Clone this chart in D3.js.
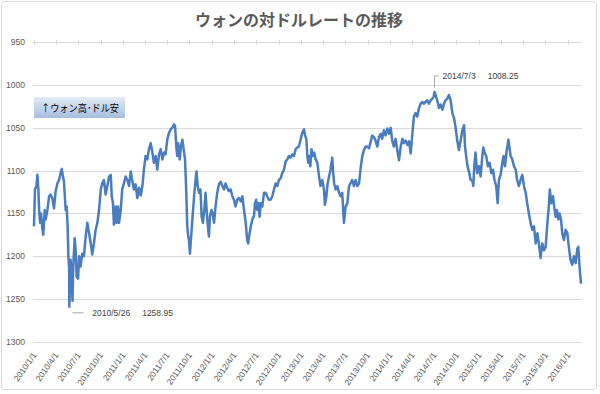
<!DOCTYPE html>
<html>
<head>
<meta charset="utf-8">
<script src="https://cdn.jsdelivr.net/npm/d3@7"></script>
<style>
  body { margin: 0; background: #fff; }
  svg text { font-family: "Liberation Sans", Arial, sans-serif; }
  .jp { font-family: "Noto Sans CJK JP", sans-serif !important; }
</style>
</head>
<body>
<svg width="600" height="394"></svg>
<script>
'use strict';
// 日付（営業日の抜き出し）
var dates = [
  '2010-01-01','2010-01-05','2010-01-11','2010-01-15','2010-01-19','2010-01-22','2010-01-26','2010-01-30','2010-02-04','2010-02-08',
  '2010-02-14','2010-02-18','2010-02-25','2010-03-04','2010-03-10','2010-03-17','2010-03-24','2010-03-31','2010-04-07','2010-04-14',
  '2010-04-20','2010-04-25','2010-04-30','2010-05-04','2010-05-08','2010-05-11','2010-05-15','2010-05-19','2010-05-22','2010-05-25',
  '2010-05-26','2010-05-31','2010-06-03','2010-06-08','2010-06-11','2010-06-17','2010-06-21','2010-06-25','2010-07-01','2010-07-05',
  '2010-07-11','2010-07-18','2010-07-25','2010-08-01','2010-08-08','2010-08-15','2010-08-22','2010-08-28','2010-09-04','2010-09-11',
  '2010-09-18','2010-09-25','2010-10-02','2010-10-08','2010-10-15','2010-10-22','2010-10-29','2010-11-05','2010-11-12','2010-11-16',
  '2010-11-21','2010-11-25','2010-12-02','2010-12-06','2010-12-12','2010-12-16','2010-12-23','2010-12-29',
  '2011-01-05','2011-01-12','2011-01-19','2011-01-26','2011-02-02','2011-02-08','2011-02-15','2011-02-22','2011-03-01','2011-03-08',
  '2011-03-15','2011-03-22','2011-03-28','2011-04-04','2011-04-11','2011-04-18','2011-04-25','2011-05-02','2011-05-08','2011-05-15',
  '2011-05-22','2011-05-29','2011-06-05','2011-06-12','2011-06-19','2011-06-25','2011-07-02','2011-07-09','2011-07-16','2011-07-23',
  '2011-07-30','2011-08-03','2011-08-08','2011-08-12','2011-08-16','2011-08-22','2011-08-27','2011-09-02','2011-09-07','2011-09-13',
  '2011-09-18','2011-09-22','2011-09-26','2011-09-29','2011-10-03','2011-10-06','2011-10-13','2011-10-20','2011-10-26','2011-10-30',
  '2011-11-04','2011-11-09','2011-11-15','2011-11-20','2011-11-25','2011-12-01','2011-12-06','2011-12-13','2011-12-20','2011-12-24',
  '2011-12-30',
  '2012-01-04','2012-01-10','2012-01-16','2012-01-23','2012-01-30','2012-02-06','2012-02-13','2012-02-20','2012-02-26','2012-03-04',
  '2012-03-11','2012-03-18','2012-03-25','2012-04-01','2012-04-07','2012-04-14','2012-04-21','2012-04-28','2012-05-05','2012-05-12',
  '2012-05-19','2012-05-25','2012-05-29','2012-06-04','2012-06-09','2012-06-15','2012-06-22','2012-06-26','2012-07-01','2012-07-05',
  '2012-07-10','2012-07-15','2012-07-20','2012-07-26','2012-08-02','2012-08-09','2012-08-15','2012-08-22','2012-08-29','2012-09-05',
  '2012-09-12','2012-09-19','2012-09-26','2012-10-02','2012-10-09','2012-10-16','2012-10-23','2012-10-30','2012-11-06','2012-11-12',
  '2012-11-19','2012-11-26','2012-12-03','2012-12-10','2012-12-17','2012-12-23','2012-12-30',
  '2013-01-06','2013-01-13','2013-01-17','2013-01-23','2013-01-27','2013-01-31','2013-02-04','2013-02-08','2013-02-13','2013-02-19',
  '2013-02-24','2013-03-02','2013-03-09','2013-03-16','2013-03-22','2013-03-29','2013-04-05','2013-04-09','2013-04-15','2013-04-20',
  '2013-04-26','2013-05-02','2013-05-09','2013-05-13','2013-05-17','2013-05-23','2013-05-30','2013-06-06','2013-06-12','2013-06-19',
  '2013-06-26','2013-07-03','2013-07-10','2013-07-17','2013-07-23','2013-07-30','2013-08-06','2013-08-13','2013-08-20','2013-08-27',
  '2013-09-03','2013-09-09','2013-09-16','2013-09-23','2013-09-30','2013-10-07','2013-10-14','2013-10-20','2013-10-27','2013-11-03',
  '2013-11-10','2013-11-17','2013-11-24','2013-11-30','2013-12-07','2013-12-14','2013-12-21','2013-12-28',
  '2014-01-04','2014-01-10','2014-01-17','2014-01-24','2014-01-31','2014-02-07','2014-02-14','2014-02-21','2014-02-27','2014-03-06',
  '2014-03-13','2014-03-20','2014-03-27','2014-04-03','2014-04-09','2014-04-16','2014-04-23','2014-04-30','2014-05-07','2014-05-14',
  '2014-05-20','2014-05-27','2014-06-03','2014-06-10','2014-06-17','2014-06-24','2014-06-29','2014-07-03','2014-07-14','2014-07-21',
  '2014-07-28','2014-08-04','2014-08-11','2014-08-17','2014-08-24','2014-08-31','2014-09-07','2014-09-14','2014-09-21','2014-09-27',
  '2014-10-04','2014-10-11','2014-10-18','2014-10-25','2014-11-01','2014-11-05','2014-11-10','2014-11-16','2014-11-21','2014-11-28',
  '2014-12-05','2014-12-09','2014-12-13','2014-12-18','2014-12-25',
  '2015-01-01','2015-01-08','2015-01-15','2015-01-19','2015-01-24','2015-01-31','2015-02-07','2015-02-14','2015-02-21','2015-02-28',
  '2015-03-06','2015-03-13','2015-03-19','2015-03-24','2015-03-31','2015-04-07','2015-04-12','2015-04-18','2015-04-25','2015-05-02',
  '2015-05-06','2015-05-11','2015-05-18','2015-05-25','2015-06-01','2015-06-07','2015-06-14','2015-06-21','2015-06-28','2015-07-05',
  '2015-07-12','2015-07-18','2015-07-25','2015-08-01','2015-08-08','2015-08-15','2015-08-22','2015-08-29','2015-09-04','2015-09-11',
  '2015-09-18','2015-09-25','2015-10-02','2015-10-09','2015-10-15','2015-10-19','2015-10-25','2015-11-01','2015-11-06','2015-11-12',
  '2015-11-17','2015-11-23','2015-11-28','2015-12-04','2015-12-09','2015-12-16','2015-12-23','2015-12-30',
  '2016-01-05','2016-01-12','2016-01-19','2016-01-26','2016-02-02','2016-02-09','2016-02-13','2016-02-18','2016-02-24'
];
// ウォン／ドル
var rates = [
  1165,1122,1118,1105,1122,1146,1161,1150,1167,1175,
  1146,1157,1146,1130,1128,1132,1144,1124,1115,1111,
  1103,1098,1107,1113,1132,1146,1142,1165,1200,1212,
  1258.95,1204,1215,1252,1212,1179,1193,1224,1226,1200,
  1212,1197,1200,1177,1161,1173,1185,1198,1185,1169,
  1161,1146,1122,1115,1111,1128,1118,1107,1105,1130,
  1138,1163,1142,1161,1142,1161,1146,1122,
  1115,1107,1111,1118,1101,1111,1122,1116,1132,1120,
  1129,1118,1099,1083,1087,1075,1068,1079,1091,1083,
  1099,1081,1075,1087,1079,1081,1064,1056,1052,1050,
  1046,1048,1072,1083,1068,1087,1072,1064,1075,1087,
  1126,1165,1177,1181,1197,1185,1157,1130,1111,1101,
  1118,1126,1122,1154,1161,1146,1126,1157,1177,1154,
  1146,
  1150,1161,1142,1126,1116,1113,1118,1122,1115,1120,
  1124,1122,1130,1134,1142,1134,1132,1136,1130,1146,
  1161,1181,1185,1173,1165,1157,1153,1138,1134,1146,
  1138,1154,1138,1142,1126,1126,1130,1134,1134,1130,
  1122,1115,1118,1111,1109,1103,1099,1089,1087,1083,
  1085,1081,1083,1075,1073,1072,1064,
  1056,1052,1058,1064,1083,1091,1083,1095,1075,1083,
  1079,1087,1091,1107,1118,1111,1122,1140,1130,1115,
  1107,1099,1085,1103,1115,1122,1118,1126,1130,1126,
  1161,1142,1138,1118,1115,1111,1118,1111,1118,1115,
  1096,1084,1076,1072,1072,1074,1066,1059,1061,1065,
  1072,1061,1057,1063,1053,1059,1051,1057,
  1050,1065,1072,1063,1076,1088,1072,1063,1068,1065,
  1070,1066,1080,1057,1037,1033,1037,1027,1022,1020,
  1022,1020,1018,1022,1018,1016,1014,1008.25,1018,1027,
  1023,1029,1022,1018,1016,1012,1018,1033,1039,1049,
  1065,1076,1065,1053,1047,1072,1084,1096,1101,1111,
  1112,1118,1095,1079,1103,
  1095,1107,1083,1073,1079,1083,1095,1091,1103,1099,
  1111,1118,1138,1111,1105,1091,1083,1095,1077,1064,
  1072,1083,1087,1095,1099,1111,1118,1111,1105,1118,
  1126,1138,1150,1161,1169,1165,1185,1173,1185,1202,
  1185,1193,1189,1161,1142,1122,1138,1130,1142,1154,
  1146,1157,1150,1157,1173,1181,1169,1173,
  1189,1204,1210,1200,1208,1191,1189,1212,1232
];
var yTicks = [950, 1000, 1050, 1100, 1150, 1200, 1250, 1300];
var callouts = [
  { date: '2014-07-03', label: '2014/7/3', value: 1008.25 },
  { date: '2010-05-26', label: '2010/5/26', value: 1258.95 }
];

(() => {
  var parse = d3.timeParse('%Y-%m-%d');
  var series = dates.map((d, i) => ({ date: parse(d), value: rates[i] }));

  var svg = d3.select('svg');
  var left = 34, right = 581, top = 42, bottom = 342;

  svg.append('rect')
    .attr('x', 1.5).attr('y', 1.5).attr('width', 595).attr('height', 388)
    .attr('rx', 3)
    .attr('fill', '#fff').attr('stroke', '#d9d9d9');

  var x = d3.scaleTime()
    .domain(d3.extent(series, d => d.date))
    .range([left, right]);
  var y = d3.scaleLinear()
    .domain([950, 1300])
    .range([top, bottom]);

  // gridlines
  svg.append('g').selectAll('line').data(yTicks).enter().append('line')
    .attr('x1', left - 1).attr('x2', right + 1)
    .attr('y1', d => Math.round(y(d)) + 0.5).attr('y2', d => Math.round(y(d)) + 0.5)
    .attr('stroke', '#d9d9d9');

  svg.append('g').selectAll('text').data(yTicks).enter().append('text')
    .attr('x', 25).attr('y', d => y(d) + 3)
    .attr('text-anchor', 'end')
    .attr('font-size', 8.5)
    .attr('fill', '#595959')
    .text(d => d);

  // quarterly ticks (the reversed axis sits on top)
  var quarters = d3.timeMonth.every(3).range(parse('2010-01-01'), x.domain()[1]);
  svg.append('g').selectAll('line').data(quarters).enter().append('line')
    .attr('x1', d => Math.round(x(d)) + 0.5).attr('x2', d => Math.round(x(d)) + 0.5)
    .attr('y1', top - 2).attr('y2', top + 3)
    .attr('stroke', '#d9d9d9');

  var fmt = d3.timeFormat('%Y/%-m/%-d');
  svg.append('g').selectAll('text').data(quarters).enter().append('text')
    .attr('transform', d => `translate(${x(d) + 3}, 355) rotate(-55)`)
    .attr('text-anchor', 'end')
    .attr('font-size', 8.5)
    .attr('fill', '#595959')
    .text(fmt);

  // the series
  var line = d3.line().x(d => x(d.date)).y(d => y(d.value));
  svg.append('path')
    .datum(series)
    .attr('d', line)
    .attr('fill', 'none')
    .attr('stroke', '#4a7dbf')
    .attr('stroke-width', 2.5)
    .attr('stroke-linejoin', 'round');

  // callouts
  var hi = callouts[0], lo = callouts[1];
  var hx = x(parse(hi.date)), hy = y(hi.value);
  svg.append('path')
    .attr('d', `M${hx},${hy - 4}V${hy - 16}H${hx + 4}`)
    .attr('fill', 'none').attr('stroke', '#a6a6a6');
  var ht = svg.append('text')
    .attr('x', hx + 8).attr('y', hy - 13)
    .attr('font-size', 8.5).attr('fill', '#404040');
  ht.append('tspan').text(hi.label);
  ht.append('tspan').attr('dx', 12).text(hi.value);

  var lx = x(parse(lo.date)), ly = y(lo.value);
  svg.append('path')
    .attr('d', `M${lx + 3},${ly + 6}H${lx + 14}`)
    .attr('fill', 'none').attr('stroke', '#a6a6a6');
  var lt = svg.append('text')
    .attr('x', lx + 23).attr('y', ly + 9)
    .attr('font-size', 8.5).attr('fill', '#404040');
  lt.append('tspan').text(lo.label);
  lt.append('tspan').attr('dx', 12).text(lo.value);

  // title
  svg.append('text')
    .attr('class', 'jp')
    .attr('x', 299).attr('y', 26)
    .attr('text-anchor', 'middle')
    .attr('font-size', 16).attr('font-weight', 'bold')
    .attr('fill', '#595959')
    .text('ウォンの対ドルレートの推移');

  // note box
  var grad = svg.append('defs').append('linearGradient')
    .attr('id', 'boxfill').attr('x1', 0).attr('y1', 0).attr('x2', 0).attr('y2', 1);
  grad.append('stop').attr('offset', '0%').attr('stop-color', '#e4ecf6');
  grad.append('stop').attr('offset', '100%').attr('stop-color', '#a5bddf');
  svg.append('rect')
    .attr('x', 34).attr('y', 97).attr('width', 91).attr('height', 21)
    .attr('fill', 'url(#boxfill)');
  svg.append('text')
    .attr('class', 'jp')
    .attr('x', 41).attr('y', 112)
    .attr('font-size', 10)
    .attr('textLength', 78).attr('lengthAdjust', 'spacingAndGlyphs')
    .attr('fill', '#000')
    .text('↑ウォン高･ドル安');
})();
</script>
</body>
</html>
